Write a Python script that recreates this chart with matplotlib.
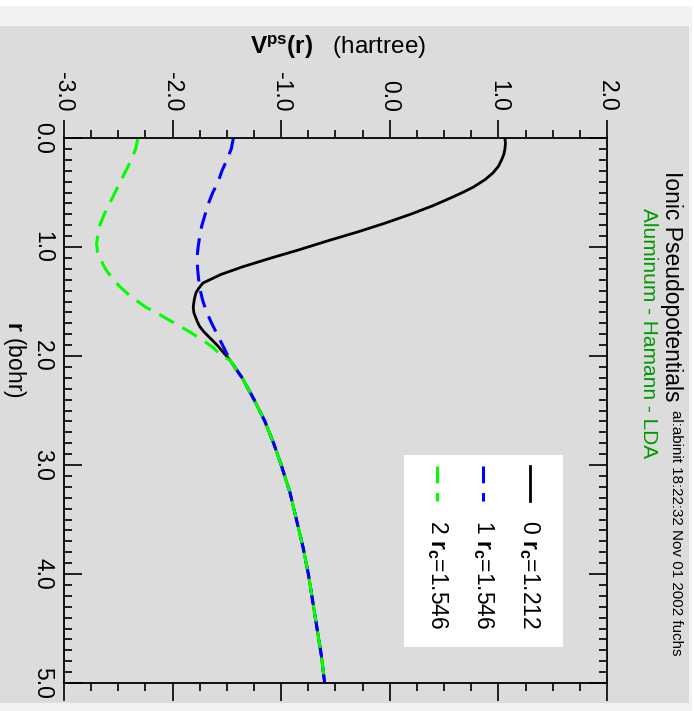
import numpy as np
import matplotlib.pyplot as plt
from matplotlib.patches import Rectangle

plt.rcParams['font.family'] = ['Liberation Sans', 'DejaVu Sans']
plt.rcParams['mathtext.fontset'] = 'custom'
plt.rcParams['mathtext.rm'] = 'Liberation Sans'
plt.rcParams['mathtext.bf'] = 'Liberation Sans:bold'
plt.rcParams['mathtext.it'] = 'Liberation Sans:italic'

# values: r in bohr, V in hartree
r_s = [0.0, 0.05, 0.1, 0.15, 0.2, 0.26, 0.32, 0.38, 0.45, 0.5, 0.55, 0.62, 0.7, 0.78,
       0.86, 0.94, 1.03, 1.1, 1.18, 1.25, 1.33, 1.38, 1.42, 1.48, 1.55, 1.6, 1.64, 1.69,
       1.73, 1.78, 1.83, 1.9, 1.97]
v_s = [1.06, 1.065, 1.06, 1.05, 1.03, 1.0, 0.95, 0.88, 0.77, 0.67, 0.56, 0.40, 0.19,
       -0.04, -0.29, -0.56, -0.85, -1.09, -1.35, -1.55, -1.72, -1.76, -1.785, -1.80,
       -1.81, -1.805, -1.79, -1.77, -1.75, -1.71, -1.66, -1.59, -1.53]

r_p = [0.0, 0.1, 0.2, 0.3, 0.4, 0.5, 0.6, 0.7, 0.8, 0.9, 1.0, 1.1, 1.2, 1.3, 1.4, 1.5,
       1.6, 1.7, 1.8, 1.9]
v_p = [-1.44, -1.46, -1.50, -1.545, -1.58, -1.63, -1.67, -1.70, -1.73, -1.75, -1.765,
       -1.775, -1.77, -1.76, -1.745, -1.72, -1.685, -1.64, -1.59, -1.54]

r_d = [0.0, 0.1, 0.2, 0.3, 0.4, 0.5, 0.6, 0.7, 0.8, 0.9, 0.97, 1.05, 1.12, 1.2, 1.28,
       1.36, 1.45, 1.55, 1.62, 1.7, 1.78, 1.85, 1.92, 2.0]
v_d = [-2.32, -2.34, -2.38, -2.43, -2.48, -2.53, -2.58, -2.63, -2.67, -2.69, -2.70,
       -2.69, -2.66, -2.62, -2.56, -2.49, -2.39, -2.25, -2.12, -1.98, -1.84, -1.73,
       -1.63, -1.55]

# common tail beyond r ~ 2
r_tail = [2.04, 2.2, 2.4, 2.6, 2.8, 3.0, 3.25, 3.5, 3.75, 4.0, 4.25, 4.5, 4.75, 5.0]
v_tail = [-1.47, -1.36, -1.25, -1.15, -1.07, -1.0, -0.92, -0.86, -0.80, -0.75, -0.71,
          -0.67, -0.63, -0.60]

labels = ["0", "1", "2"]
rcuts = ["1.212", "1.546", "1.546"]
colors = ["black", "blue", "#00ff00"]

fig = plt.figure(figsize=(6.94, 7.11), dpi=100)
fig.patches.append(Rectangle((0, 0), 692/694, 705/711, transform=fig.transFigure,
                             facecolor='#f2f2f2', edgecolor='none', zorder=-2))
fig.patches.append(Rectangle((0, 8/711), 689/694, 677/711, transform=fig.transFigure,
                             facecolor='#dcdcdc', edgecolor='none', zorder=-1))

ax = fig.add_axes([64/694, 28/711, 543/694, 545/711])
ax.set_facecolor('#dcdcdc')

ls_dash = (0, (5.5, 3.2))
curves = [(r_s, v_s), (r_p, v_p), (r_d, v_d)]
for i, (rr, vv) in enumerate(curves):
    rr = list(rr) + r_tail
    vv = list(vv) + v_tail
    ax.plot(vv, rr, color=colors[i], lw=2.0 if i == 0 else 2.2,
            ls='-' if i == 0 else ls_dash, solid_joinstyle='round')

ax.set_xlim(-3, 2)
ax.set_ylim(5, 0)
ax.set_xticks(np.arange(-3, 2.01, 1.0))
ax.set_xticks(np.arange(-3, 2.01, 0.25), minor=True)
ax.set_yticks(np.arange(0, 5.01, 1.0))
ax.set_yticks(np.arange(0, 5.01, 0.1), minor=True)
ax.set_xticklabels(["%.1f" % t for t in np.arange(-3, 2.01, 1.0)], rotation=-90, fontsize=16.5)
ax.set_yticklabels(["%.1f" % t for t in np.arange(0, 5.01, 1.0)], rotation=-90, fontsize=16.5,
                   va='center')
ax.tick_params(axis='x', which='both', direction='out', top=True, bottom=True,
               labeltop=True, labelbottom=False, width=1.2, pad=6)
ax.tick_params(axis='x', which='major', length=13)
ax.tick_params(axis='x', which='minor', length=6)
ax.tick_params(axis='y', which='both', direction='in', left=True, right=True,
               labelleft=True, width=1.2, pad=7)
ax.tick_params(axis='y', which='major', length=13)
ax.tick_params(axis='y', which='minor', length=6)
for s in ax.spines.values():
    s.set_linewidth(1.3)

# legend drawn by hand, rotated like the rest
ax.add_patch(Rectangle((0.626, 0.066), 0.293, 0.352, transform=ax.transAxes,
                       facecolor='white', edgecolor='none', zorder=3))
hx = [0.858, 0.772, 0.687]
for i in range(3):
    ax.plot([hx[i], hx[i]], [0.398, 0.334], transform=ax.transAxes, color=colors[i],
            lw=2.0 if i == 0 else 2.2, ls='-' if i == 0 else ls_dash, zorder=4)
    ax.text(hx[i], 0.299, labels[i] + r" $\mathbf{r}_\mathbf{c}$=" + rcuts[i],
            transform=ax.transAxes, rotation=-90, ha='center', va='top', fontsize=16.5,
            zorder=4)

fig.text(0.487, 0.934, r"$\mathbf{V^{ps}(r)}$   (hartree)", ha='center', va='center',
         fontsize=17.5)
fig.text(0.0216, 0.495, r"$\mathbf{r}$ (bohr)", rotation=-90, ha='center', va='center',
         fontsize=16.5)
fig.text(0.968, 0.598, "Ionic Pseudopotentials", rotation=-90, ha='center', va='center',
         fontsize=16.5)
fig.text(0.934, 0.532, "Aluminum - Hamann - LDA", rotation=-90, ha='center', va='center',
         fontsize=15, color='#009900')
fig.text(0.974, 0.251, "al:abinit 18:22:32 Nov 01 2002 fuchs", rotation=-90, ha='center',
         va='center', fontsize=10.9)

fig.savefig('out.png', dpi=100)
